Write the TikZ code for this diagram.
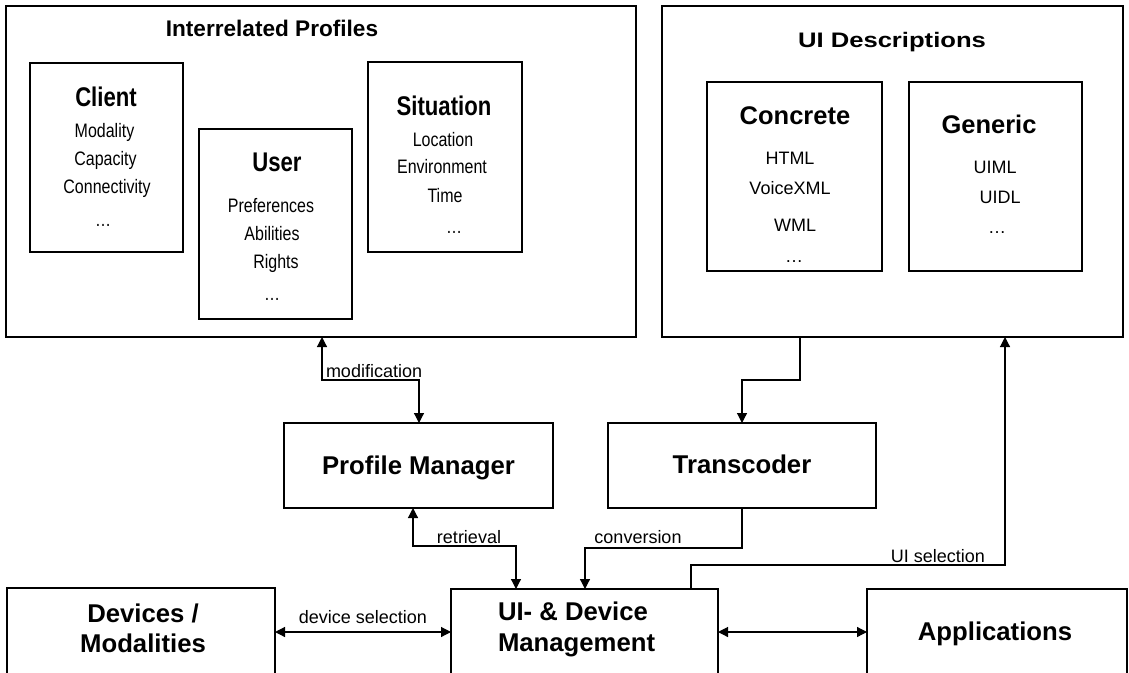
\documentclass[tikz,border=0pt]{standalone}
\usepackage{fontspec}
\setmainfont{Liberation Sans}
\newfontfamily\narrowsf[FakeStretch=0.82]{Liberation Sans}
\newfontfamily\widesf[FakeStretch=1.22]{Liberation Sans}
\usetikzlibrary{arrows.meta}

\begin{document}
\begin{tikzpicture}[x=1pt,y=-1pt,
  box/.style={draw, line width=1.2pt, inner sep=0pt, outer sep=0pt},
  txt/.style={inner sep=0pt, outer sep=0pt, anchor=base},
  conn/.style={line width=1.2pt, -{Triangle[length=10pt,width=10pt]}},
  biconn/.style={line width=1.2pt, {Triangle[length=10pt,width=10pt]}-{Triangle[length=10pt,width=10pt]}},
  grouptitle/.style={txt, font=\fontsize{22.6}{24}\selectfont\bfseries},
  widetitle/.style={txt, font=\widesf\fontsize{21}{24}\selectfont\bfseries},
  proftitle/.style={txt, font=\narrowsf\fontsize{27}{30}\selectfont\bfseries},
  profitem/.style={txt, font=\narrowsf\fontsize{19.5}{22}\selectfont},
  desctitle/.style={txt, font=\fontsize{25.5}{28}\selectfont\bfseries},
  descitem/.style={txt, font=\fontsize{18}{20}\selectfont},
  comptitle/.style={txt, font=\fontsize{25.7}{28}\selectfont\bfseries},
  lbl/.style={txt, font=\fontsize{18}{20}\selectfont},
]
\useasboundingbox (0,0) rectangle (1129,672);
\clip (0,0) rectangle (1129,672);

% ---- profile group ----
\node[box, minimum width=630pt, minimum height=331pt] (ip) at (321,171.5) {};
\node[grouptitle] (iptitle) at (272,36) {Interrelated Profiles};

\node[box, minimum width=153pt, minimum height=189pt] (client) at (106.5,157.5) {};
\node[proftitle] (clientt) at (106,106) {Client};
\node[profitem] (c1) at (104.5,137) {Modality};
\node[profitem] (c2) at (105.5,165) {Capacity};
\node[profitem] (c3) at (107,193) {Connectivity};
\node[profitem] (c4) at (103,226) {…};

\node[box, minimum width=153pt, minimum height=190pt] (user) at (275.5,224) {};
\node[proftitle] (usert) at (277,171) {User};
\node[profitem] (u1) at (271,212) {Preferences};
\node[profitem] (u2) at (272,240) {Abilities};
\node[profitem] (u3) at (276,268) {Rights};
\node[profitem] (u4) at (272,300) {…};

\node[box, minimum width=154pt, minimum height=190pt] (situation) at (445,157) {};
\node[proftitle] (sitt) at (444,115) {Situation};
\node[profitem] (s1) at (443,146) {Location};
\node[profitem] (s2) at (442,173) {Environment};
\node[profitem] (s3) at (445,202) {Time};
\node[profitem] (s4) at (454,233) {…};

% ---- description group ----
\node[box, minimum width=461pt, minimum height=331pt] (uid) at (892.5,171.5) {};
\node[widetitle] (uidtitle) at (892,47) {UI Descriptions};

\node[box, minimum width=175pt, minimum height=189pt] (concrete) at (794.5,176.5) {};
\node[desctitle] (concretet) at (795,124) {Concrete};
\node[descitem] (k1) at (790,164) {HTML};
\node[descitem] (k2) at (790,194) {VoiceXML};
\node[descitem] (k3) at (795,231) {WML};
\node[descitem] (k4) at (794,262) {…};

\node[box, minimum width=173pt, minimum height=189pt] (generic) at (995.5,176.5) {};
\node[desctitle] (generict) at (989,133) {Generic};
\node[descitem] (g1) at (995,173) {UIML};
\node[descitem] (g2) at (1000,203) {UIDL};
\node[descitem] (g3) at (997,233) {…};

% ---- middle components ----
\node[box, minimum width=269pt, minimum height=85pt] (pm) at (418.5,465.5) {};
\node[comptitle] (pmt) at (418.5,474) {Profile Manager};

\node[box, minimum width=268pt, minimum height=85pt] (tc) at (742,465.5) {};
\node[comptitle] (tct) at (742,473) {Transcoder};

% ---- bottom row ----
\node[box, minimum width=268pt, minimum height=102pt] (dev) at (141,639) {};
\node[comptitle] (devt1) at (143,622) {Devices /};
\node[comptitle] (devt2) at (143,652) {Modalities};

\node[box, minimum width=267pt, minimum height=102pt] (uim) at (584.5,640) {};
\node[comptitle, anchor=base west] (uimt1) at (498,620) {UI- \& Device};
\node[comptitle, anchor=base west] (uimt2) at (498,651) {Management};

\node[box, minimum width=260pt, minimum height=102pt] (app) at (997,640) {};
\node[comptitle] (appt) at (995,640) {Applications};

% ---- connectors ----
\draw[biconn] (322,0 |- ip.south) -- (322,380) -| (pm.north -| 419,0);
\node[lbl, anchor=base west] (modl) at (326,377) {modification};

\draw[conn] (800,0 |- uid.south) -- (800,380) -| (tc.north);

\draw[biconn] (413,0 |- pm.south) -- (413,546) -| (516,0 |- uim.north);
\node[lbl] (retl) at (469,543) {retrieval};

\draw[conn] (tc.south) -- (742,548) -| (585,0 |- uim.north);
\node[lbl] (convl) at (638,543) {conversion};

\draw[conn] (691,0 |- uim.north) -- (691,565) -| (1005,0 |- uid.south);
\node[lbl] (uisell) at (938,562) {UI selection};

\draw[biconn] (dev.east |- 0,632) -- (uim.west |- 0,632);
\node[lbl] (devsell) at (363,623) {device selection};

\draw[biconn] (uim.east |- 0,632) -- (app.west |- 0,632);
\end{tikzpicture}
\end{document}
